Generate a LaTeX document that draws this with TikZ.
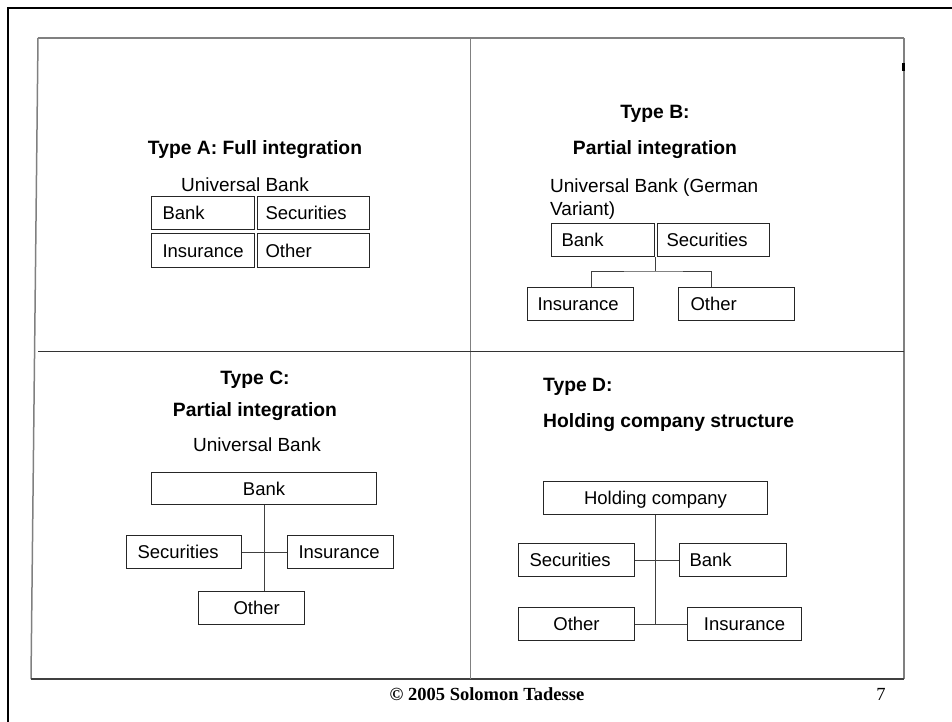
\documentclass[tikz,border=0pt]{standalone}
\usepackage{fontspec}
\setmainfont{Liberation Sans}
\newfontfamily\timesfont{Liberation Serif}
\begin{document}
\begin{tikzpicture}[x=1pt,y=-1pt,
  txt/.style={inner sep=0pt, font=\fontsize{19}{23}\selectfont},
  ttl/.style={inner sep=0pt, font=\fontsize{19.3}{23}\selectfont\bfseries},
  box/.style={draw=black!85, line width=1pt, inner ysep=0pt, anchor=north west,
    minimum height=33pt, text height=13.2pt, text depth=0pt,
    font=\fontsize{18.5}{23}\selectfont},
  lbox/.style={box, align=left},
  cbox/.style={box, align=center, inner xsep=0pt},
  grid/.style={draw=black!50, line width=1.5pt},
  link/.style={draw=black!75, line width=1pt}]
\useasboundingbox (0,0) rectangle (952,722);

% slide frame
\draw[line width=2.5pt] (8,722) -- (8,8) -- (952,8);

% four-quadrant table
\draw[grid] (38,38) -- (904,38);
\draw[grid] (904,38) -- (904,679);
\draw[grid] (38,38) -- (31,679);
\draw[draw=black!75, line width=1.5pt] (31,679) -- (904,679);
\draw[grid] (470.5,38) -- (470.5,679);
\draw[draw=black!80, line width=1.5pt] (38,351.5) -- (904,351.5);
\draw[line width=2.5pt] (903.5,63) -- (903.5,71);

% ---- Type A ----
\node[ttl, anchor=base] (tA) at (255,155) {Type A: Full integration};
\node[txt, anchor=base] (uA) at (245,192) {Universal Bank};
\node[lbox, inner xsep=11pt, text width=81pt] (bankA) at (151,196) {Bank};
\node[lbox, inner xsep=8pt, text width=96pt] (secA) at (257,196) {Securities};
\node[lbox, inner xsep=11pt, text width=81pt, minimum height=34pt] (insA) at (151,233) {Insurance};
\node[lbox, inner xsep=8pt, text width=96pt, minimum height=34pt] (othA) at (257,233) {Other};

% ---- Type B ----
\node[ttl, anchor=base] (tB1) at (655,119) {Type B:};
\node[ttl, anchor=base] (tB2) at (655,155) {Partial integration};
\node[txt, anchor=base west, align=left] (uB) at (550,215) {Universal Bank (German\\Variant)};
\node[lbox, inner xsep=10pt, text width=83pt] (bankB) at (551,223) {Bank};
\node[lbox, inner xsep=9pt, text width=94pt] (secB) at (657,223) {Securities};
\node[lbox, inner xsep=10pt, text width=86pt] (insB) at (527,287) {Insurance};
\node[lbox, inner xsep=12pt, text width=92pt] (othB) at (678,287) {Other};
\coordinate (jB) at (655.5,271);
\draw[link] (jB |- bankB.south) -- (jB);
\draw[link] ([xshift=11pt]insB.north) |- (jB) -| ([xshift=-25pt]othB.north);

% ---- Type C ----
\node[ttl, anchor=base] (tC1) at (255,384) {Type C:};
\node[ttl, anchor=base] (tC2) at (255,416) {Partial integration};
\node[txt, anchor=base] (uC) at (257,451) {Universal Bank};
\node[cbox, minimum width=225pt, minimum height=32pt] (bankC) at (151,472) {Bank};
\node[lbox, inner xsep=11pt, text width=93pt] (secC) at (126,535) {Securities};
\node[lbox, inner xsep=11pt, text width=84pt] (insC) at (287,535) {Insurance};
\node[lbox, inner xsep=35pt, text width=36pt] (othC) at (198,591) {Other};
\draw[link] (bankC.south) -- (bankC.south |- othC.north);
\draw[link] (secC.east) -- (insC.west);

% ---- Type D ----
\node[ttl, anchor=base west] (tD1) at (543,391) {Type D:};
\node[ttl, anchor=base west] (tD2) at (543,427) {Holding company structure};
\node[cbox, minimum width=224pt] (hold) at (543,481) {Holding company};
\node[lbox, inner xsep=11pt, text width=94pt] (secD) at (518,543) {Securities};
\node[lbox, inner xsep=10pt, text width=87pt] (bankD) at (679,543) {Bank};
\node[cbox, minimum width=116pt] (othD) at (518,607) {Other};
\node[cbox, minimum width=114pt] (insD) at (687,607) {Insurance};
\coordinate (jD) at (hold.south |- othD.west);
\draw[link] (hold.south) -- (jD);
\draw[link] (secD.east) -- (bankD.west);
\draw[link] (othD.east) -- (insD.west);

% footer
\node[inner sep=0pt, anchor=base, font=\fontsize{18.5}{23}\selectfont\timesfont\bfseries] (foot) at (487,700) {© 2005 Solomon Tadesse};
\node[inner sep=0pt, anchor=base, font=\fontsize{18.5}{23}\selectfont\timesfont] (page) at (881,700) {7};
\end{tikzpicture}
\end{document}
